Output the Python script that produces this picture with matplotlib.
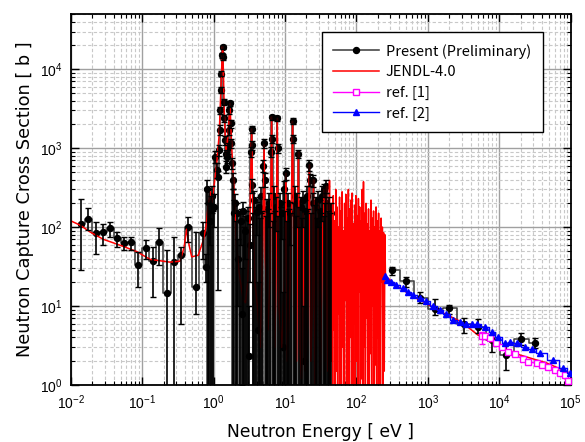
import numpy as np
import matplotlib
matplotlib.use("Agg")
import matplotlib.pyplot as plt
from matplotlib.ticker import LogLocator, NullFormatter

plt.rcParams['font.family'] = ['Liberation Sans', 'DejaVu Sans']
plt.rcParams['mathtext.default'] = 'regular'

# ---------------- Present (Preliminary): thermal + resolved region ----------------
pres_E = [0.0138, 0.0177, 0.0224, 0.0280, 0.0355, 0.0450, 0.0557, 0.0706, 0.0885, 0.112,
          0.141, 0.174, 0.223, 0.282, 0.350, 0.443, 0.562, 0.705,
          0.78, 0.80, 0.83, 0.86, 0.89, 0.92, 0.95, 0.98, 1.01, 1.05, 1.10, 1.15, 1.20, 1.23,
          1.25, 1.27, 1.29, 1.32, 1.34, 1.36, 1.38, 1.41, 1.44, 1.47, 1.50, 1.55, 1.60, 1.64,
          1.67, 1.70, 1.74, 1.76, 1.80, 1.85, 1.89, 1.94,
          2.00, 2.07, 2.15, 2.23, 2.31, 2.40, 2.49, 2.58, 2.68, 2.78, 2.88, 2.99,
          3.10, 3.22, 3.34, 3.42, 3.46, 3.50, 3.60, 3.73, 3.87,
          4.01, 4.16, 4.32, 4.48, 4.65, 4.82,
          5.00, 5.10, 5.20, 5.38, 5.58, 5.79,
          6.01, 6.23, 6.40, 6.50, 6.60, 6.80,
          7.05, 7.30, 7.55, 7.80, 7.90,
          8.10, 8.40, 8.70, 9.00, 9.35, 9.70,
          10.0, 10.3, 10.6, 11.0, 11.4, 11.8,
          12.3, 12.8, 13.0, 13.4, 13.9, 14.4, 14.9,
          15.4, 15.9, 16.5, 17.1, 17.7, 18.4, 19.1, 19.8,
          20.5, 21.2, 21.9, 22.7, 23.5, 24.3, 25.0, 26.0, 27.0, 28.0, 29.0,
          30.0, 31.1, 32.3, 33.5, 34.7, 35.0, 36.0, 37.3, 38.0, 39.5, 41.0, 42.5, 44.0]
pres_sig = [108, 125, 83, 86, 98, 72, 62, 64, 33, 54,
            37.5, 65, 14.5, 36, 44, 101, 17.6, 83,
            31, 300, 0.3, 200, 120, 0.3, 250, 0.3, 180, 780, 525, 430, 944, 1690,
            3020, 5420, 8810, 15000, 19100, 14300, 3860, 2380, 1260, 850, 580, 780, 1000, 1690,
            3020, 3680, 2060, 1150, 640, 0.3, 394, 150,
            200, 0.3, 150, 40, 0.3, 120, 8, 160, 0.3, 90, 0.3, 130,
            2.3, 60, 900, 1725, 1090, 340, 0.3, 220, 0.3,
            155, 5, 180, 0.3, 250, 0.3,
            600, 1150, 400, 0.3, 170, 0.3,
            200, 0.3, 900, 2450, 1300, 0.3,
            250, 0.3, 180, 2380, 1000,
            0.3, 200, 0.3, 150, 3, 300,
            0.3, 480, 0.3, 200, 0.3, 150,
            0.3, 2200, 1300, 0.3, 250, 0.3, 200,
            850, 0.3, 180, 0.3, 220, 2, 160, 0.3,
            250, 0.3, 610, 400, 0.3, 200, 390, 0.3, 180, 0.3, 220,
            0.3, 160, 0.3, 250, 0.3, 295, 0.3, 200, 330, 0.3, 180, 0.3, 150]
pres_lo = [28.6, 92, 46, 59, 75, 56, 51, 51, 17.6, 40,
           13.1, 33, 0.3, 0.3, 6.0, 65, 8, 40,
           20, 200, 0.3, 0.3, 60, 0.3, 150, 0.3, 100, 650, 420, 16, 800, 1450,
           2700, 5000, 8200, 14000, 18000, 13000, 3500, 2150, 1100, 740, 480, 650, 850, 1450,
           2700, 3400, 1800, 1000, 540, 0.3, 300, 0.3,
           150, 0.3, 0.3, 10, 0.3, 60, 1, 0.3, 0.3, 40, 0.3, 0.3,
           0.5, 20, 780, 1550, 950, 270, 0.3, 0.3, 0.3,
           80, 0.3, 0.3, 0.3, 150, 0.3,
           500, 1000, 320, 0.3, 0.3, 0.3,
           100, 0.3, 780, 2250, 1150, 0.3,
           0.3, 0.3, 90, 2200, 870,
           0.3, 0.3, 0.3, 70, 0.3, 0.3,
           0.3, 400, 0.3, 0.3, 0.3, 60,
           0.3, 2000, 1150, 0.3, 0.3, 0.3, 100,
           740, 0.3, 0.3, 0.3, 100, 0.3, 0.3, 0.3,
           0.3, 0.3, 520, 330, 0.3, 0.3, 320, 0.3, 0.3, 0.3, 100,
           0.3, 0.3, 0.3, 120, 0.3, 240, 0.3, 0.3, 270, 0.3, 0.3, 0.3, 0.3]
pres_hi = [224, 177, 117, 111, 117, 87, 75, 75, 49, 68,
           56, 96, 51, 75, 56, 135, 87, 117,
           45, 390, 200, 300, 200, 250, 330, 160, 260, 920, 640, 520, 1100, 1950,
           3350, 5900, 9400, 16000, 20500, 15500, 4200, 2600, 1420, 960, 680, 900, 1150, 1950,
           3350, 3950, 2300, 1300, 740, 300, 480, 220,
           260, 120, 200, 70, 150, 170, 30, 210, 100, 140, 160, 180,
           10, 110, 1020, 1900, 1230, 410, 150, 290, 180,
           210, 20, 240, 130, 320, 160,
           700, 1300, 480, 140, 230, 170,
           270, 150, 1020, 2650, 1450, 120,
           330, 160, 240, 2560, 1130,
           140, 270, 180, 210, 15, 380,
           160, 560, 120, 270, 170, 210,
           150, 2400, 1450, 200, 330, 140, 270,
           960, 180, 240, 130, 290, 10, 220, 160,
           330, 170, 700, 470, 150, 270, 460, 190, 240, 130, 290,
           170, 220, 150, 330, 140, 350, 200, 270, 390, 160, 240, 150, 200]

# Present points inside the unresolved red band (only error bars visible)
mid_E = [49.0, 79.0, 125.0, 199.0]
mid_sig = [53, 48, 45, 40]
mid_lo = [48, 44, 40, 36]
mid_hi = [59, 53, 50, 44]

# Present points at high energy
high_E = [315, 499, 769, 1270, 1980, 3180, 5080, 7830, 12400, 19950, 31600]
high_sig = [28.6, 20.9, 12.5, 9.2, 9.35, 6.0, 5.5, 3.7, 2.4, 3.79, 3.37]
high_lo = [25, 17.5, 10.8, 7.8, 8.0, 4.5, 4.5, 2.6, 1.55, 3.2, 2.95]
high_hi = [31.5, 23.5, 14.9, 12.2, 10.4, 7.1, 6.8, 4.3, 3.4, 4.5, 3.9]

# ---------------- JENDL-4.0 ----------------
jendl_E = [0.01, 0.0135, 0.0186, 0.0286, 0.049, 0.084, 0.129, 0.245, 0.339, 0.386, 0.42,
           0.453, 0.494, 0.611, 0.718, 0.783, 0.85, 0.9, 0.95, 1.0, 1.1, 1.2, 1.27, 1.32,
           1.34, 1.37, 1.42, 1.5, 1.6, 1.7, 1.78, 1.9, 2.0, 2.1, 2.3, 2.6, 2.8, 3.0, 3.2,
           3.3, 3.42, 3.55, 3.8, 4.2, 4.5, 4.9, 5.1, 5.3, 5.8, 6.2, 6.5, 6.8, 7.2, 7.5, 7.8,
           8.2, 9.0, 9.8, 10.3, 10.8, 11.8, 12.8, 13.5, 14.5, 15.4, 16.2, 17.0, 18.0, 19.0,
           20.5, 21.9, 23.0, 24.2, 25.0, 26.5, 28.0, 29.5, 31.0, 33.0, 35.0, 36.5, 38.0,
           39.5, 41.0,
           42.0, 42.9, 43.7, 44.6, 45.5, 46.5, 47.4, 48.4, 49.4, 50.4, 51.4, 52.5, 53.5,
           54.6, 55.8, 56.9, 58.1, 59.2, 60.5, 61.7, 63.0, 64.2, 65.6, 66.9, 68.3, 69.7,
           71.1, 72.6, 74.1, 75.6, 77.1, 78.7, 80.3, 82.0, 83.7, 85.4, 87.1, 88.9, 90.7,
           92.6, 94.5, 96.4, 98.4, 100.4, 102.5, 104.6, 106.7, 108.9, 111.2, 113.4, 115.8,
           118.1, 120.6, 123.0, 125.6, 128.1, 130.8, 133.5, 136.2, 139.0, 141.8, 144.7,
           147.7, 150.7, 153.8, 157.0, 160.2, 163.5, 166.8, 170.3, 173.8, 177.3, 181.0,
           184.7, 188.5, 192.3, 196.3, 200.3, 204.4, 208.6, 212.9, 217.2, 221.7, 226.2,
           230.9, 235.6, 240.4, 245.4, 250.4, 255.0,
           382, 594, 1005, 1500, 2940, 5010, 10000, 19500, 46100, 100000]
jendl_sig = [120, 106, 87, 70, 59, 49, 39, 36, 37, 55, 94,
             60, 42, 44, 68, 100, 200, 280, 200, 300, 600, 1500, 6000, 15000,
             19500, 10000, 2500, 800, 1500, 3700, 1200, 400, 150, 55, 25, 12, 11, 20, 80,
             400, 1750, 150, 20, 8, 3, 80, 1100, 40, 5, 30, 2500, 40, 3, 30, 2400,
             10, 3, 20, 480, 2, 20, 2200, 10, 2, 900, 3, 1.2, 150, 1.5,
             5, 620, 2, 10, 400, 1, 30, 200, 1, 40, 300, 2, 330,
             1.5, 15,
             390, 0.4, 150, 2, 200, 0.3, 250, 5, 120, 0.5, 300, 1.5, 180,
             0.3, 100, 8, 240, 0.6, 160, 0.3, 280, 3, 90, 0.4, 200, 12,
             260, 0.3, 130, 1, 300, 0.5, 170, 4, 220, 0.3, 270, 0.8, 110,
             6, 190, 0.3, 250, 2, 140, 0.4, 230, 15, 180, 0.3, 120,
             1.2, 300, 0.5, 375, 3, 150, 0.3, 200, 7, 110, 0.4,
             170, 0.3, 90, 2.5, 220, 0.6, 130, 10, 160, 0.3, 100,
             1.8, 180, 0.4, 120, 4, 150, 0.3, 90, 0.7, 130, 20,
             100, 0.3, 85, 1.5, 80, 24,
             17.6, 13.5, 10.5, 8.5, 6.3, 4.3, 3.1, 2.4, 1.9, 1.4]

# ---------------- ref. [1] ----------------
ref1_E = [5680, 6310, 7410, 9000, 10800, 13400, 16600, 21300, 25500, 33400, 39300,
          48600, 60300, 70800, 83200, 92500]
ref1_sig = [4.2, 4.17, 3.9, 3.37, 3.0, 2.64, 2.44, 2.11, 1.97, 1.88, 1.79,
            1.70, 1.55, 1.43, 1.34, 1.12]
ref1_err_E = [5680]
ref1_err_sig = [4.2]
ref1_err_lo = [3.3]
ref1_err_hi = [4.7]

# ---------------- ref. [2] ----------------
ref2_E = [249, 271, 308, 362, 449, 527, 620, 769, 953, 1180, 1465, 1815, 2250, 2790,
          3460, 4110, 4830, 6310, 7830, 9680, 12000, 14100, 17500, 22900, 28400, 37200,
          57100, 78800, 97700]
ref2_sig = [24.2, 21.3, 20.0, 18.4, 16.7, 15.2, 14.0, 12.7, 11.6, 10.1, 8.9, 7.85, 6.6,
            6.3, 6.0, 6.0, 5.9, 5.5, 4.7, 4.08, 3.43, 3.53, 3.43, 3.05, 2.83, 2.56,
            2.07, 1.63, 1.41]

x_ticks = [1e-2, 1e-1, 1e0, 1e1, 1e2, 1e3, 1e4, 1e5]
y_ticks = [1e0, 1e1, 1e2, 1e3, 1e4]


def bars(E, s, lo, hi):
    s = np.asarray(s, float)
    return np.asarray(E, float), s, np.vstack([s - np.asarray(lo, float),
                                               np.asarray(hi, float) - s])


# ---------------- figure ----------------
fig = plt.figure(figsize=(5.85, 4.42), dpi=100)
ax = fig.add_axes([70.7 / 585, (442 - 385) / 442, 500 / 585, 371 / 442])
ax.set_xscale('log')
ax.set_yscale('log')

h_jendl, = ax.plot(jendl_E, jendl_sig, color='#ff0000', lw=1.1, zorder=2.3)

pres_color = '#404040'
for (E, s, lo, hi) in [(pres_E, pres_sig, pres_lo, pres_hi),
                       (high_E, high_sig, high_lo, high_hi)]:
    e, sv, ye = bars(E, s, lo, hi)
    h_pres, = ax.plot(e, sv, drawstyle='steps-mid', color=pres_color, lw=1.15,
                      marker='o', ms=4.3, mfc='black', mec='black', zorder=2.2)
    ax.errorbar(e, sv, yerr=ye, fmt='none', ecolor='black', elinewidth=1.2,
                capsize=2, capthick=1.0, zorder=2.4)

e, sv, ye = bars(mid_E, mid_sig, mid_lo, mid_hi)
ax.errorbar(e, sv, yerr=ye, fmt='none', ecolor='#600000', elinewidth=1.0,
            capsize=2, capthick=1.0, zorder=2)

e, sv, ye = bars(ref1_err_E, ref1_err_sig, ref1_err_lo, ref1_err_hi)
ax.errorbar(e, sv, yerr=ye, fmt='none', ecolor='#ff00ff', elinewidth=1.0, capsize=2,
            zorder=4)
h_ref1, = ax.plot(ref1_E, ref1_sig, color='#ff00ff', lw=1.0, marker='s', ms=4.2,
                  mfc='white', mec='#ff00ff', mew=1.0, zorder=4)

h_ref2, = ax.plot(ref2_E, ref2_sig, drawstyle='steps-mid', color='#0000ff', lw=1.0,
                  marker='^', ms=5.0, mfc='#0000ff', mec='#0000ff', zorder=5)

ax.set_xlim(1e-2, 1e5)
ax.set_ylim(1, 5e4)

ax.xaxis.set_major_locator(LogLocator(base=10, numticks=20))
ax.yaxis.set_major_locator(LogLocator(base=10, numticks=20))
ax.xaxis.set_minor_locator(LogLocator(base=10, subs=np.arange(2, 10), numticks=200))
ax.yaxis.set_minor_locator(LogLocator(base=10, subs=np.arange(2, 10), numticks=200))
ax.xaxis.set_minor_formatter(NullFormatter())
ax.yaxis.set_minor_formatter(NullFormatter())
ax.set_xticks(x_ticks)
ax.set_yticks(y_ticks)

ax.set_axisbelow(True)
ax.grid(which='major', color='#a0a0a0', lw=1.0, ls='-')
ax.grid(which='minor', color='#c8c8c8', lw=0.8, ls=(0, (3, 2)))

ax.tick_params(which='both', direction='in', top=True, right=True, labelsize=10)
ax.tick_params(which='major', length=6, width=1.0, pad=6)
ax.tick_params(which='minor', length=3, width=0.8)
for sp in ax.spines.values():
    sp.set_linewidth(1.3)
    sp.set_color('black')

ax.set_xlabel('Neutron Energy [ eV ]', fontsize=12.3, family='DejaVu Sans', labelpad=8)
ax.set_ylabel('Neutron Capture Cross Section [ b ]', fontsize=12.8, family='DejaVu Sans',
              labelpad=4)

leg = ax.legend([h_pres, h_jendl, h_ref1, h_ref2],
                ['Present (Preliminary)', 'JENDL-4.0', 'ref. [1]', 'ref. [2]'],
                loc='upper left', bbox_to_anchor=(0.502, 0.951), borderaxespad=0,
                prop={'family': ['Noto Sans CJK JP', 'DejaVu Sans'], 'size': 10.5},
                handlelength=3.1, handletextpad=0.5, labelspacing=0.45,
                borderpad=0.8, fancybox=False, framealpha=1, edgecolor='black')
leg.get_frame().set_linewidth(1.0)
leg.set_zorder(10)

fig.savefig('out.png', dpi=100)
